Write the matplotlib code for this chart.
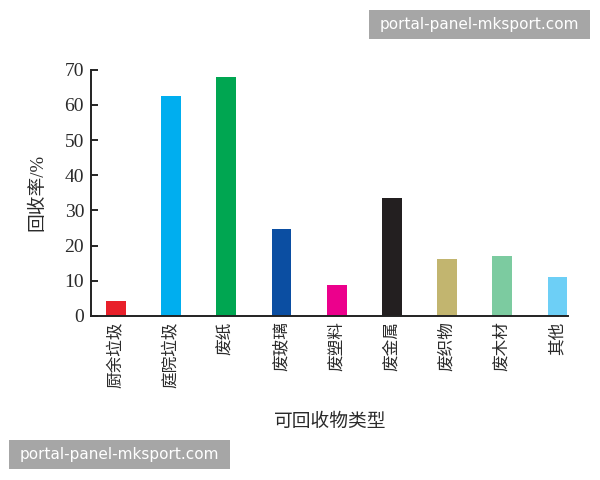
import matplotlib
matplotlib.use("Agg")
import matplotlib.pyplot as plt

categories = ["厨余垃圾", "庭院垃圾", "废纸", "废玻璃", "废塑料", "废金属", "废织物", "废木材", "其他"]
rates = [4.3, 62.4, 68.0, 24.8, 8.8, 33.6, 16.2, 17.1, 11.1]
colors = ["#e8202a", "#00aeef", "#00a651", "#0b4ea2", "#ec008c",
          "#231f20", "#c2b56f", "#7ccba0", "#6dcff6"]
yticks = [0, 10, 20, 30, 40, 50, 60, 70]

FAM = ["Liberation Serif", "Noto Sans CJK SC"]
INK = "#2a2a2a"

fig = plt.figure(figsize=(6, 4.8), dpi=100)
ax = fig.add_axes([0.1517, 0.3417, 0.795, 0.5131])

x = range(len(categories))
ax.bar(x, rates, width=0.36, color=colors)

ax.set_xlim(-0.45, 8.19)
ax.set_ylim(0, 70)
ax.set_yticks(yticks)
ax.set_yticklabels([str(v) for v in yticks], family=FAM, fontsize=14, color=INK)
ax.set_xticks(list(x))
ax.set_xticklabels(categories, rotation=90, family=FAM, fontsize=12,
                   color=INK, va="top")
ax.tick_params(axis="y", direction="in", length=5, width=1.2, pad=5)
ax.tick_params(axis="x", length=0, pad=4)

for s in ["top", "right"]:
    ax.spines[s].set_visible(False)
for s in ["left", "bottom"]:
    ax.spines[s].set_linewidth(1.4)
    ax.spines[s].set_color("#222222")

ax.set_ylabel("回收率/%", family=FAM, fontsize=13.5, color=INK, labelpad=13)
fig.text(0.55, 0.121, "可回收物类型", family=FAM, fontsize=13.5, color=INK,
         ha="center", va="center")

# watermark boxes
for (x0, y0) in [(0.615, 0.918), (0.015, 0.023)]:
    fig.patches.append(plt.Rectangle((x0, y0), 0.368, 0.061, transform=fig.transFigure,
                                     facecolor="#a6a6a6", edgecolor="none", zorder=5))
    fig.text(x0 + 0.184, y0 + 0.031, "portal-panel-mksport.com", color="white",
             fontsize=11, ha="center", va="center", family="DejaVu Sans", zorder=6)

fig.savefig("out.png", dpi=100)
